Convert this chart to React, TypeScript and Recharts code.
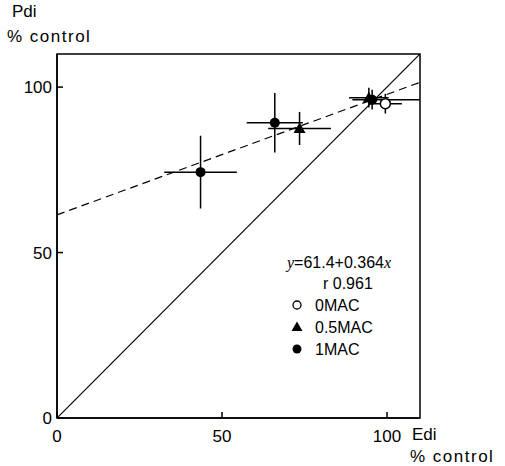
import React from 'react';
import {
  ScatterChart,
  Scatter,
  XAxis,
  YAxis,
  ErrorBar,
  ReferenceLine,
  ReferenceArea,
} from 'recharts';

// Pdi vs Edi, both as % of control
const mac0 = [{ x: 99.5, y: 95.0, xErr: 5, yErr: 3 }];
const mac05 = [
  { x: 73.5, y: 87.5, xErr: 9.5, yErr: 5 },
  { x: 94.5, y: 96.8, xErr: 6, yErr: 3 },
];
const mac1 = [
  { x: 43.5, y: 74.3, xErr: 11, yErr: 11 },
  { x: 66, y: 89.2, xErr: 8.5, yErr: 9 },
  { x: 95.5, y: 96.2, xErr: [6, 14.5], yErr: 3 },
];

const ticks = [0, 50, 100];
const intercept = 61.4;
const slope = 0.364;
const axisMax = 110;

const font = '"Liberation Sans", Arial, sans-serif';
const tickStyle = { fontSize: 17, fill: '#000', fontFamily: font };

const OpenCircle = (p: any) => (
  <circle cx={p.cx} cy={p.cy} r={5} fill="#fff" stroke="#000" strokeWidth={1.5} />
);
const FilledCircle = (p: any) => <circle cx={p.cx} cy={p.cy} r={5} fill="#000" />;
const FilledTriangle = (p: any) => (
  <polygon
    points={`${p.cx},${p.cy - 6} ${p.cx - 6},${p.cy + 4.5} ${p.cx + 6},${p.cy + 4.5}`}
    fill="#000"
  />
);

export default function App() {
  return (
    <div style={{ position: 'absolute', left: 0, top: 0, width: 505, height: 466, background: '#fff', fontFamily: font }}>
      <ScatterChart width={505} height={466} margin={{ top: 54, right: 85, bottom: 0, left: 0 }}>
        <XAxis
          type="number"
          dataKey="x"
          domain={[0, axisMax]}
          ticks={ticks}
          allowDataOverflow
          height={48}
          tickSize={-6}
          tickMargin={18}
          stroke="#000"
          strokeWidth={1.5}
          tick={tickStyle}
        />
        <YAxis
          type="number"
          dataKey="y"
          domain={[0, axisMax]}
          ticks={ticks}
          allowDataOverflow
          width={57}
          tickSize={-6}
          tickMargin={11}
          stroke="#000"
          strokeWidth={1.5}
          tick={tickStyle}
        />
        <ReferenceArea x1={0} x2={axisMax} y1={0} y2={axisMax} fill="none" stroke="#000" strokeWidth={1.5} />
        <ReferenceLine
          segment={[{ x: 0, y: 0 }, { x: axisMax, y: axisMax }]}
          stroke="#000"
          strokeWidth={1.2}
          ifOverflow="hidden"
        />
        <ReferenceLine
          segment={[{ x: 0, y: intercept }, { x: axisMax, y: intercept + slope * axisMax }]}
          stroke="#000"
          strokeWidth={1.2}
          strokeDasharray="8 5"
        />
        <Scatter data={mac1} shape={FilledCircle} isAnimationActive={false}>
          <ErrorBar dataKey="xErr" direction="x" width={0} stroke="#000" strokeWidth={1.5} />
          <ErrorBar dataKey="yErr" direction="y" width={0} stroke="#000" strokeWidth={1.5} />
        </Scatter>
        <Scatter data={mac05} shape={FilledTriangle} isAnimationActive={false}>
          <ErrorBar dataKey="xErr" direction="x" width={0} stroke="#000" strokeWidth={1.5} />
          <ErrorBar dataKey="yErr" direction="y" width={0} stroke="#000" strokeWidth={1.5} />
        </Scatter>
        <Scatter data={mac0} shape={OpenCircle} isAnimationActive={false}>
          <ErrorBar dataKey="xErr" direction="x" width={0} stroke="#000" strokeWidth={1.5} />
          <ErrorBar dataKey="yErr" direction="y" width={0} stroke="#000" strokeWidth={1.5} />
        </Scatter>
      </ScatterChart>

      <div style={{ position: 'absolute', left: 12, top: 2, fontSize: 17 }}>Pdi</div>
      <div style={{ position: 'absolute', left: 7, top: 27, fontSize: 17, letterSpacing: 1.5 }}>% control</div>
      <div style={{ position: 'absolute', left: 412, top: 425, fontSize: 17 }}>Edi</div>
      <div style={{ position: 'absolute', left: 410, top: 447, fontSize: 17, letterSpacing: 1.5 }}>% control</div>

      <div style={{ position: 'absolute', left: 287, top: 252, fontSize: 16, lineHeight: '21px' }}>
        <div>
          <i style={{ fontFamily: '"Liberation Serif", serif' }}>y</i>=61.4+0.364
          <i style={{ fontFamily: '"Liberation Serif", serif' }}>x</i>
        </div>
        <div style={{ paddingLeft: 36 }}>r 0.961</div>
        <LegendRow label="0MAC">
          <circle cx={6} cy={7} r={4} fill="#fff" stroke="#000" strokeWidth={1.3} />
        </LegendRow>
        <LegendRow label="0.5MAC">
          <polygon points="6,1.5 0.5,11 11.5,11" fill="#000" />
        </LegendRow>
        <LegendRow label="1MAC">
          <circle cx={6} cy={7} r={4.5} fill="#000" />
        </LegendRow>
      </div>
    </div>
  );
}

function LegendRow({ label, children }: { label: string; children: React.ReactNode }) {
  return (
    <div style={{ display: 'flex', alignItems: 'center', height: 22 }}>
      <svg width={14} height={14} style={{ marginLeft: 4, marginRight: 10 }}>
        {children}
      </svg>
      <span>{label}</span>
    </div>
  );
}
